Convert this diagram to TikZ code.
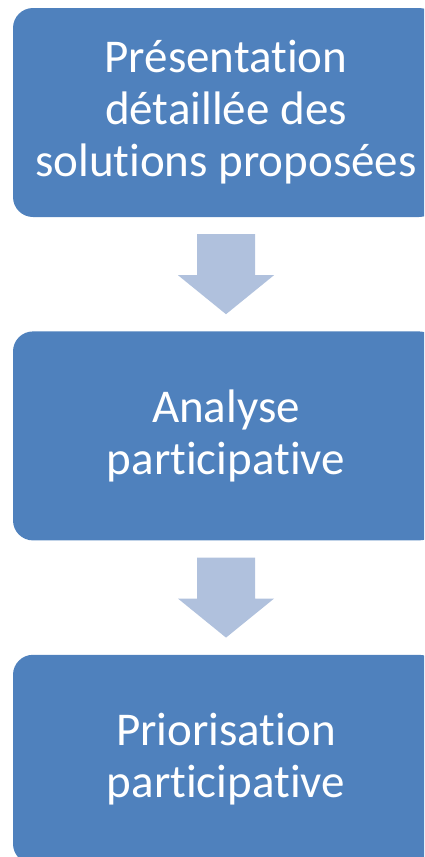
\documentclass[tikz,border=0pt]{standalone}
\usepackage{fontspec}
\setmainfont[Ligatures=NoCommon]{Carlito}
\usetikzlibrary{positioning, calc}
\definecolor{step_blue}{HTML}{4F81BD}
\definecolor{flow_blue}{HTML}{B0C1DD}
\colorlet{stepblue}{step_blue}
\colorlet{flowblue}{flow_blue}
\tikzset{
  stepbox/.style={rectangle,rounded corners=20pt,fill=stepblue,text=white,inner sep=0pt,
    minimum width=426pt,minimum height=209pt,align=center,font=\fontsize{47}{52}\selectfont},
  flowarrow/.style={fill=flowblue},
}

\begin{document}
\begin{tikzpicture}[x=1pt,y=1pt]
	    \useasboundingbox (0,0) rectangle (424,-857);
	    \clip (0,0) rectangle (424,-857);
	    \node[stepbox] (B1) at (226,-112.5) {Présentation\\détaillée des\\solutions proposées};
	    \node[stepbox,below=114pt of B1] (B2) {Analyse\\participative};
	    \node[stepbox,below=114pt of B2] (B3) {Priorisation\\participative};
	    \foreach \a/\b in {B1/B2,B2/B3}{
	      \coordinate (M) at ($(\a.south)!0.5!(\b.north)$);
	      \fill[flowarrow] ($(M)+(-29,40)$) -- ($(M)+(29,40)$) -- ($(M)+(29,-1)$) -- ($(M)+(48,-1)$)
	        -- ($(M)+(0,-40)$) -- ($(M)+(-48,-1)$) -- ($(M)+(-29,-1)$) -- cycle;
	    }
	\end{tikzpicture}
\end{document}
